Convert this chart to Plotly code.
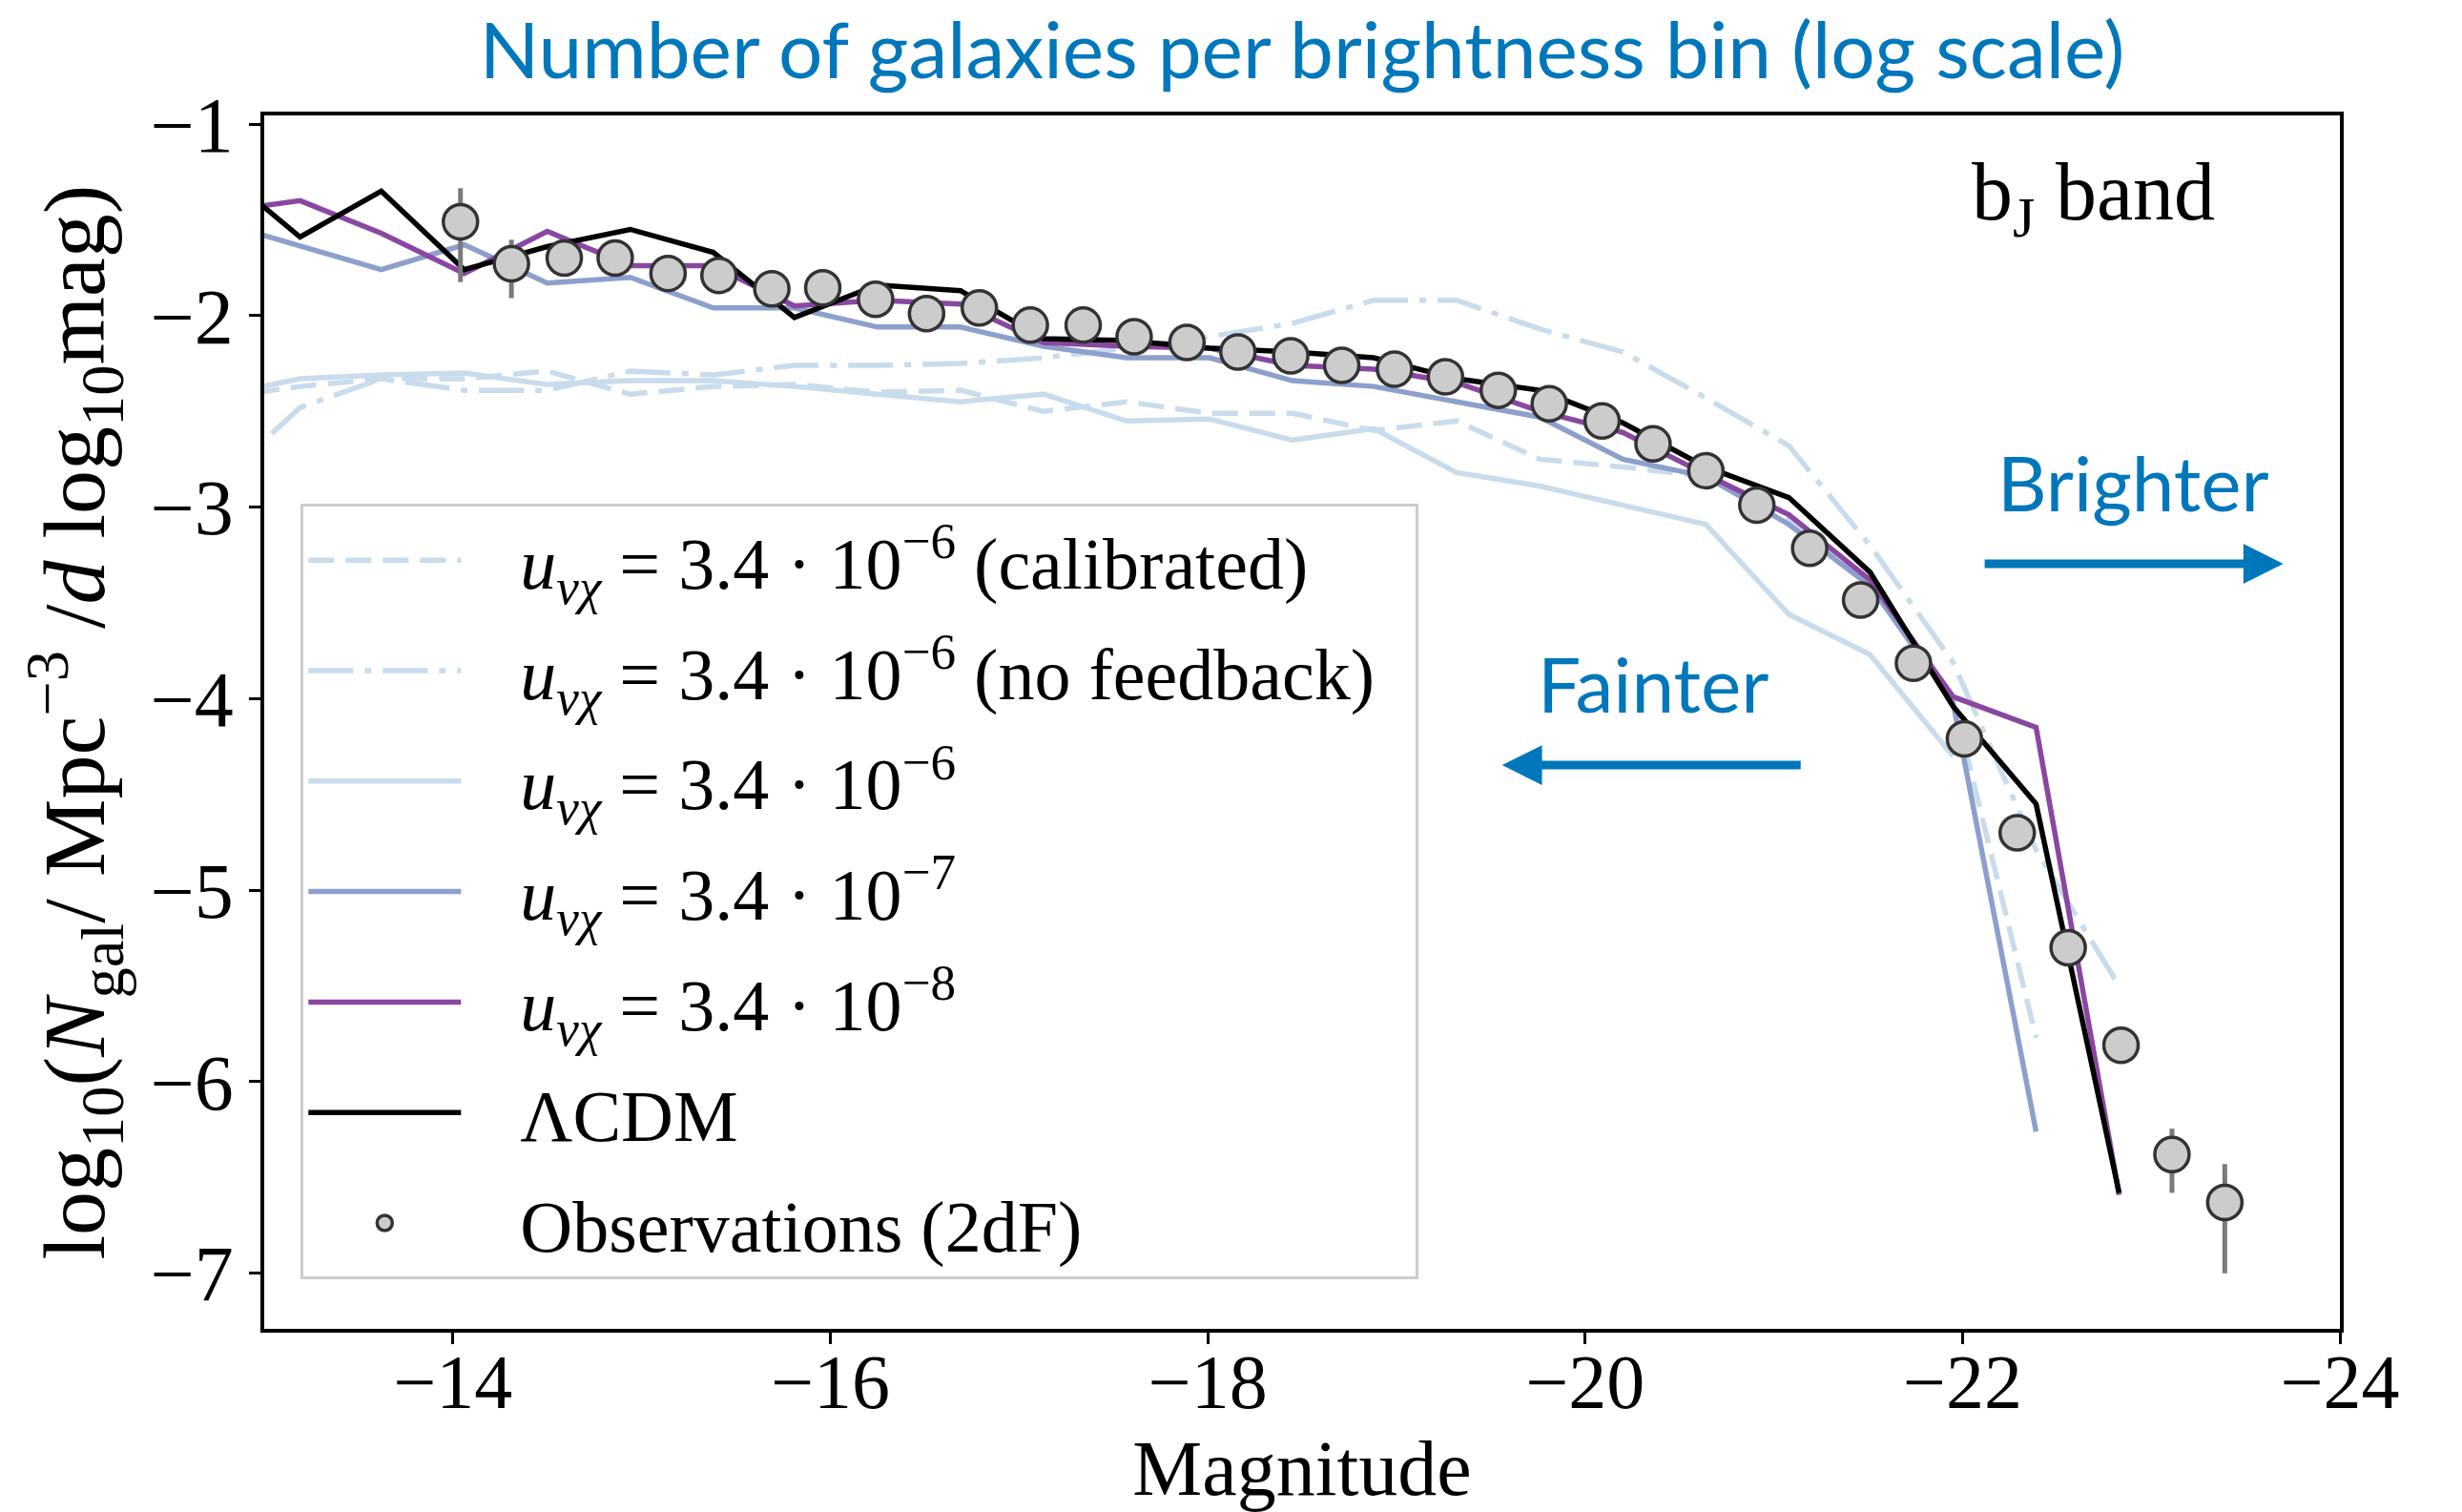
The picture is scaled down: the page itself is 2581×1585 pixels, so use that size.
import plotly.graph_objects as go

# Magnitude grid of the model luminosity functions (b_J band)
MAG_MODEL = [-12.75, -13.19, -13.62, -14.06, -14.50, -14.94, -15.38, -15.81, -16.25,
             -16.69, -17.13, -17.57, -18.01, -18.45, -18.88, -19.32, -19.76, -20.20,
             -20.64, -21.08, -21.51, -21.95, -22.39, -22.83]

# log10 number density for each model run
LCDM = [-1.23, -1.59, -1.35, -1.76, -1.64, -1.55, -1.67, -2.01, -1.84, -1.87, -2.12, -2.13,
        -2.17, -2.19, -2.22, -2.33, -2.39, -2.56, -2.79, -2.95, -3.34, -4.04, -4.55, -6.58]
U_3E8 = [-1.46, -1.40, -1.57, -1.78, -1.56, -1.74, -1.74, -1.95, -1.92, -1.94, -2.14, -2.16,
         -2.17, -2.26, -2.28, -2.35, -2.50, -2.61, -2.83, -3.04, -3.38, -3.99, -4.15, -6.59]
U_3E7 = [-1.51, -1.64, -1.76, -1.63, -1.83, -1.80, -1.96, -1.96, -2.06, -2.06, -2.16, -2.22,
         -2.22, -2.34, -2.37, -2.45, -2.53, -2.75, -2.84, -3.09, -3.41, -4.02, -6.26]
U_3E6 = [-2.42, -2.33, -2.31, -2.30, -2.36, -2.34, -2.34, -2.37, -2.41, -2.45, -2.41, -2.55,
         -2.54, -2.65, -2.59, -2.82, -2.89, -2.99, -3.09, -3.56, -3.77, -4.30]
U_3E6_CALIB = [-2.43, -2.37, -2.33, -2.33, -2.29, -2.41, -2.37, -2.36, -2.40, -2.39, -2.50,
               -2.45, -2.51, -2.51, -2.60, -2.55, -2.75, -2.79, -2.84, -3.06, -3.40, -4.00, -5.77]
U_3E6_NOFB = [-2.88, -2.48, -2.33, -2.39, -2.39, -2.29, -2.31, -2.26, -2.26, -2.25, -2.22,
              -2.17, -2.11, -2.04, -1.92, -1.92, -2.07, -2.19, -2.43, -2.68, -3.20, -3.81,
              -4.79, -5.50]

# 2dF observed luminosity function
OBS_MAG = [-14.04, -14.31, -14.59, -14.86, -15.14, -15.41, -15.69, -15.96, -16.24, -16.51,
           -16.79, -17.06, -17.34, -17.61, -17.89, -18.16, -18.44, -18.71, -18.99, -19.26,
           -19.54, -19.81, -20.09, -20.36, -20.64, -20.91, -21.19, -21.46, -21.74, -22.01,
           -22.29, -22.56, -22.84, -23.11, -23.39]
OBS_LOGN = [-1.51, -1.73, -1.70, -1.70, -1.78, -1.79, -1.86, -1.855, -1.915, -1.99, -1.96,
            -2.05, -2.05, -2.11, -2.14, -2.19, -2.21, -2.26, -2.28, -2.32, -2.39, -2.46,
            -2.55, -2.67, -2.81, -2.99, -3.215, -3.485, -3.815, -4.21, -4.70, -5.30, -5.81,
            -6.38, -6.63]
OBS_ERR_UP = [0.175, 0.126, 0.06, 0.05, 0.04, 0.04, 0.03, 0.03, 0.03, 0.03, 0.02, 0.02,
              0.02, 0.02, 0.02, 0.02, 0.02, 0.02, 0.02, 0.02, 0.02, 0.02, 0.02, 0.02, 0.02,
              0.02, 0.02, 0.02, 0.03, 0.03, 0.04, 0.05, 0.07, 0.135, 0.20]
OBS_ERR_DOWN = [0.315, 0.179, 0.07, 0.06, 0.05, 0.05, 0.04, 0.04, 0.03, 0.03, 0.02, 0.02,
                0.02, 0.02, 0.02, 0.02, 0.02, 0.02, 0.02, 0.02, 0.02, 0.02, 0.02, 0.02, 0.02,
                0.02, 0.02, 0.02, 0.03, 0.03, 0.04, 0.06, 0.08, 0.20, 0.37]

X_TICKS = [-14, -16, -18, -20, -22, -24]
Y_TICKS = [-1, -2, -3, -4, -5, -6, -7]

# legend labels start after a small gap from the key line
PAD = "\u00a0\u00a0\u00a0"
LABEL_U = PAD + "<i>u</i><sub><i>νχ</i></sub> = 3.4 · 10<sup>−{}</sup>"

SERIF = "Liberation Serif, Times New Roman, serif"
SANS = "Lato, Open Sans, sans-serif"
BLUE = "#0077bb"
LIGHT = "#c9dcec"
MID = "#8d9fcc"
PURPLE = "#8a47a1"

models = [
    (U_3E6_CALIB, LABEL_U.format(6) + " (calibrated)", LIGHT, "27px,12px"),
    (U_3E6_NOFB, LABEL_U.format(6) + " (no feedback)\u00a0\u00a0", LIGHT,
     "47px,12px,7px,12px"),
    (U_3E6, LABEL_U.format(6), LIGHT, "solid"),
    (U_3E7, LABEL_U.format(7), MID, "solid"),
    (U_3E8, LABEL_U.format(8), PURPLE, "solid"),
    (LCDM, PAD + "ΛCDM", "#000000", "solid"),
]

fig = go.Figure()

for i, (vals, name, color, dash) in enumerate(models):
    fig.add_trace(go.Scatter(
        x=MAG_MODEL[:len(vals)], y=vals, mode="lines", name=name,
        legendgroup=f"g{i}",
        line=dict(color=color, width=5.5, dash=dash),
    ))

fig.add_trace(go.Scatter(
    x=OBS_MAG, y=OBS_LOGN, mode="markers", name=PAD + "Observations (2dF)",
    legendgroup="obs",
    marker=dict(size=36, color="#cccccc", line=dict(color="#333333", width=3.5)),
    error_y=dict(type="data", symmetric=False, array=OBS_ERR_UP,
                 arrayminus=OBS_ERR_DOWN, color="#7a7a7a", thickness=5, width=0),
))

# direction arrows along the magnitude axis
fig.add_annotation(x=-23.70, y=-3.296, ax=-22.11, ay=-3.296, xref="x", yref="y",
                   axref="x", ayref="y", text="", showarrow=True, arrowhead=2,
                   arrowsize=0.93, arrowwidth=9, arrowcolor=BLUE, standoff=0)
fig.add_annotation(x=-19.56, y=-4.347, ax=-21.15, ay=-4.347, xref="x", yref="y",
                   axref="x", ayref="y", text="", showarrow=True, arrowhead=2,
                   arrowsize=0.93, arrowwidth=9, arrowcolor=BLUE, standoff=0)
fig.add_annotation(x=0.9003, y=0.6978, xref="paper", yref="paper", text="Brighter",
                   showarrow=False, font=dict(family=SANS, size=80, color=BLUE),
                   xanchor="center", yanchor="middle")
fig.add_annotation(x=0.6689, y=0.5323, xref="paper", yref="paper", text="Fainter",
                   showarrow=False, font=dict(family=SANS, size=80, color=BLUE),
                   xanchor="center", yanchor="middle")
fig.add_annotation(x=0.8814, y=0.9320, xref="paper", yref="paper",
                   text="b<sub>J</sub> band", showarrow=False,
                   font=dict(family=SERIF, size=86, color="#000000"),
                   xanchor="center", yanchor="middle")

axis_common = dict(
    showline=True, linecolor="#000000", linewidth=3.5, mirror=True,
    ticks="outside", ticklen=12, tickwidth=3, tickcolor="#000000",
    showgrid=False, zeroline=False, automargin=False,
)

fig.update_layout(
    width=2581, height=1585,
    margin=dict(l=277, r=128, t=121, b=192),
    paper_bgcolor="#ffffff", plot_bgcolor="#ffffff",
    title=dict(text="Number of galaxies per brightness bin (log scale)",
               font=dict(family=SANS, size=82, color=BLUE),
               x=0.5, xref="paper", xanchor="center",
               y=0.9666, yref="container", yanchor="middle"),
    xaxis=dict(range=[-13, -24], tickmode="array", tickvals=X_TICKS,
               ticklabelstandoff=-29,
               tickfont=dict(family=SERIF, size=80, color="#000000"),
               title=dict(text="Magnitude", standoff=27,
                          font=dict(family=SERIF, size=82, color="#000000")),
               **axis_common),
    yaxis=dict(range=[-7.29, -0.955], tickmode="array", tickvals=Y_TICKS,
               tickfont=dict(family=SERIF, size=82, color="#000000"),
               title=dict(text="log<sub>10</sub>(<i>N</i><sub>gal</sub>/ Mpc<sup>−3</sup> /<i>d</i> log<sub>10</sub>mag)",
                          standoff=18,
                          font=dict(family=SERIF, size=92, color="#000000")),
               **axis_common),
    legend=dict(x=0.0176, y=0.6798, xanchor="left", yanchor="top",
                bgcolor="rgba(255,255,255,0.85)", bordercolor="#cccccc", borderwidth=3,
                font=dict(family=SERIF, size=76, color="#000000"),
                itemwidth=160, tracegroupgap=14, traceorder="grouped"),
    showlegend=True,
)

fig.write_html("out.html")
